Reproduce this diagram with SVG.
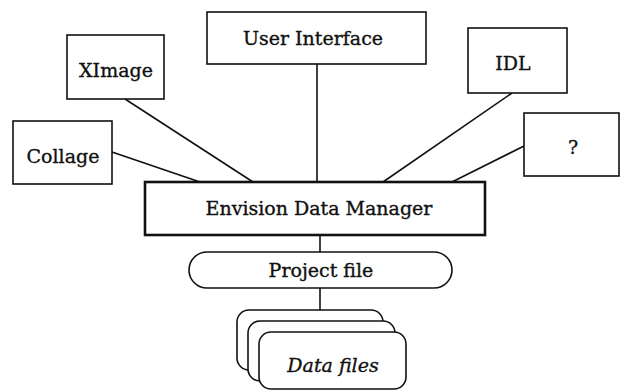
<svg xmlns="http://www.w3.org/2000/svg" width="621" height="391" viewBox="0 0 621 391">
<style>
.box{fill:#fff;stroke:#111;stroke-width:1.6}
.thick{fill:#fff;stroke:#111;stroke-width:2.6}
.t{font-family:"DejaVu Serif","Liberation Serif",serif;font-size:19px;fill:#111;stroke:#111;stroke-width:0.35;text-anchor:middle}
.i{font-style:italic}
.c{stroke:#111;stroke-width:1.6;fill:none}
</style>
<rect width="621" height="391" fill="#fff"/>
<g id="connectors">
<line class="c" x1="125" y1="99" x2="253" y2="182"/>
<line class="c" x1="112" y1="152" x2="200" y2="182"/>
<line class="c" x1="317" y1="64" x2="317" y2="182"/>
<line class="c" x1="512" y1="93" x2="383" y2="182"/>
<line class="c" x1="524" y1="146" x2="452" y2="182"/>
<line class="c" x1="320" y1="235" x2="320" y2="252"/>
<line class="c" x1="320" y1="288" x2="320" y2="310"/>
</g>
<g id="ximage"><rect class="box" x="67" y="35" width="97" height="64"/><text class="t" x="116" y="77">XImage</text></g>
<g id="collage"><rect class="box" x="13" y="121" width="99" height="63"/><text class="t" x="63" y="163">Collage</text></g>
<g id="ui"><rect class="box" x="207" y="12" width="219" height="52"/><text class="t" x="313" y="45">User Interface</text></g>
<g id="idl"><rect class="box" x="468" y="28" width="99" height="65"/><text class="t" x="513" y="70">IDL</text></g>
<g id="unknown"><rect class="box" x="524" y="113" width="95" height="63"/><text class="t" x="573" y="154">?</text></g>
<g id="edm"><rect class="thick" x="145" y="182" width="340" height="53"/><text class="t" x="319" y="215">Envision Data Manager</text></g>
<g id="project"><rect class="box" x="189" y="252" width="263" height="36" rx="18"/><text class="t" x="321" y="277">Project file</text></g>
<g id="datafiles">
<rect class="box" x="237" y="310" width="146" height="60" rx="12"/>
<rect class="box" x="248" y="321" width="147" height="60" rx="12"/>
<rect class="box" x="259" y="332" width="147" height="57" rx="12"/>
<text class="t i" x="333" y="372">Data files</text>
</g>
</svg>
